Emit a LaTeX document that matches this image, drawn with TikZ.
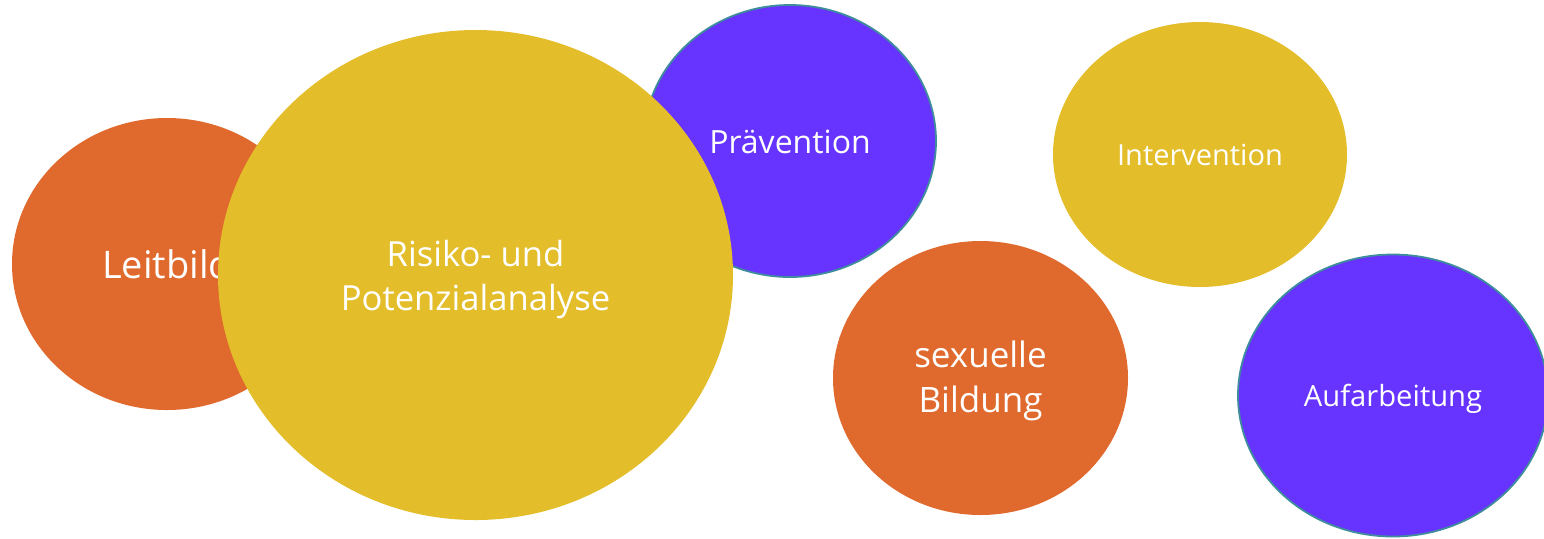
\documentclass[tikz,border=0pt]{standalone}
\usepackage{fontspec}
\setmainfont{Open Sans}
\usetikzlibrary{shapes.geometric}
\definecolor{orangec}{HTML}{E06A2D}
\definecolor{yellowc}{HTML}{E3BD2A}
\definecolor{purplec}{HTML}{6633FF}
\definecolor{rimc}{HTML}{3F8C9C}
\newcommand{\sinktext}[2]{\raisebox{-#1}[\height][\depth]{#2}}
\newcommand{\twolines}[2]{\begin{tabular}{@{}c@{}}#1\\#2\end{tabular}}

\begin{document}
\begin{tikzpicture}[x=0.5pt, y=-0.5pt,
  blob/.style={ellipse, inner sep=0pt, text=white, align=center},
  orng/.style={blob, fill=orangec},
  yllw/.style={blob, fill=yellowc},
  prpl/.style={blob, fill=purplec, draw=rimc, line width=0.9pt}]
  \useasboundingbox (0,0) rectangle (1544,538);
  \clip (0,0) rectangle (1544,538);
  % left group
  \node[orng, minimum width=155pt, minimum height=146pt,
        font=\fontsize{19}{22}\selectfont] (leit) at (167,264) {Leitbild};
  \node[prpl, minimum width=146pt, minimum height=136pt,
        font=\fontsize{16}{19}\selectfont] (praev) at (790,141) {\sinktext{0.5pt}{Prävention}};
  \node[yllw, minimum width=257.5pt, minimum height=245pt,
        font=\fontsize{17.3}{22}\selectfont] (risiko) at (475.5,275)
        {\sinktext{2.5pt}{\twolines{Risiko- und}{Potenzialanalyse}}};
  % right group
  \node[yllw, minimum width=147pt, minimum height=132.5pt,
        font=\fontsize{14.5}{18}\selectfont] (interv) at (1200,154.5) {Intervention};
  \node[orng, minimum width=147.5pt, minimum height=137pt,
        font=\fontsize{17.5}{22.3}\selectfont] (sexb) at (980.5,378)
        {\sinktext{1.5pt}{\twolines{sexuelle}{Bildung}}};
  \node[prpl, minimum width=155pt, minimum height=141pt,
        font=\fontsize{14.6}{18}\selectfont] (aufarb) at (1393,395.5)
        {\sinktext{1.5pt}{Aufarbeitung}};
\end{tikzpicture}
\end{document}
